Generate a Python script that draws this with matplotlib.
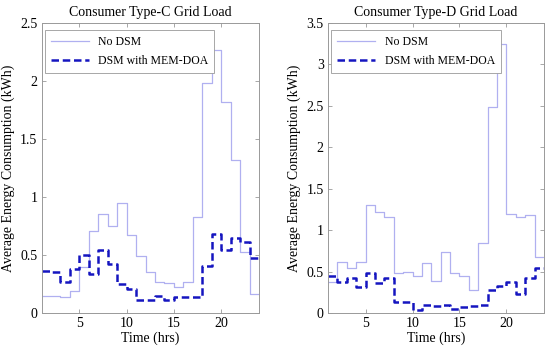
import matplotlib
matplotlib.use("Agg")
import matplotlib.pyplot as plt
import numpy as np

HOURS = list(range(1, 25))

# Consumer type C
C_NO_DSM = [0.15, 0.15, 0.14, 0.19, 0.40, 0.71, 0.85, 0.75, 0.95, 0.67, 0.49, 0.35,
            0.27, 0.26, 0.22, 0.27, 0.83, 1.98, 2.27, 1.82, 1.32, 0.53, 0.16, 0.16]
C_DSM = [0.36, 0.35, 0.27, 0.38, 0.50, 0.34, 0.54, 0.42, 0.25, 0.21, 0.115, 0.115,
         0.15, 0.11, 0.14, 0.135, 0.14, 0.405, 0.68, 0.54, 0.65, 0.61, 0.47, 0.47]

# Consumer type D
D_NO_DSM = [0.38, 0.615, 0.54, 0.615, 1.30, 1.22, 1.16, 0.48, 0.50, 0.45, 0.60, 0.39,
            0.74, 0.48, 0.45, 0.28, 0.84, 2.49, 3.25, 1.19, 1.16, 1.18, 0.67, 0.67]
D_DSM = [0.45, 0.38, 0.42, 0.31, 0.48, 0.36, 0.42, 0.13, 0.13, 0.04, 0.10, 0.09,
         0.10, 0.05, 0.07, 0.08, 0.10, 0.28, 0.32, 0.37, 0.23, 0.42, 0.545, 0.545]

PANELS = [
    ("Consumer Type-C Grid Load", C_NO_DSM, C_DSM, 2.5, [0, 0.5, 1, 1.5, 2, 2.5]),
    ("Consumer Type-D Grid Load", D_NO_DSM, D_DSM, 3.5, [0, 0.5, 1, 1.5, 2, 2.5, 3, 3.5]),
]

plt.rcParams['font.family'] = ['Liberation Serif', 'DejaVu Serif']

fig = plt.figure(figsize=(5.5, 3.48), dpi=100)
boxes = [[41.5 / 550, 1 - 313 / 348, 217.5 / 550, 290 / 348],
         [328 / 550, 1 - 313 / 348, 216 / 550, 290 / 348]]

for box, (title, nodsm, dsm, ymax, yt) in zip(boxes, PANELS):
    ax = fig.add_axes(box)
    ax.step(HOURS, nodsm, where='post', color='#b0b0f0', linewidth=0.9, label='No DSM')
    ax.step(HOURS, dsm, where='post', color='#1515c0', linewidth=1.8,
            linestyle=(0, (3, 1.5)), label='DSM with MEM-DOA')
    ax.set_xlim(1, 24)
    ax.set_ylim(0, ymax)
    ax.set_xticks([5, 10, 15, 20])
    ax.set_yticks(yt)
    ax.set_yticklabels([f"{v:g}" for v in yt])
    ax.tick_params(direction='in', top=True, right=True, length=3, width=0.6,
                   color='#999999', labelsize=10, pad=3)
    for s in ax.spines.values():
        s.set_color('#999999')
        s.set_linewidth(0.7)
    ax.set_title(title, fontsize=10, pad=5)
    ax.set_xlabel('Time (hrs)', fontsize=10, labelpad=1)
    ax.set_ylabel('Average Energy Consumption (kWh)', fontsize=10, labelpad=4)
    leg = ax.legend(loc='upper left', fontsize=8.5, fancybox=False, framealpha=1,
                    edgecolor='#999999', borderpad=0.5, handlelength=3.2,
                    bbox_to_anchor=(0.016, 0.976), borderaxespad=0,
                    labelspacing=0.6)
    leg.get_frame().set_linewidth(0.6)

fig.savefig('out.png', dpi=100)
